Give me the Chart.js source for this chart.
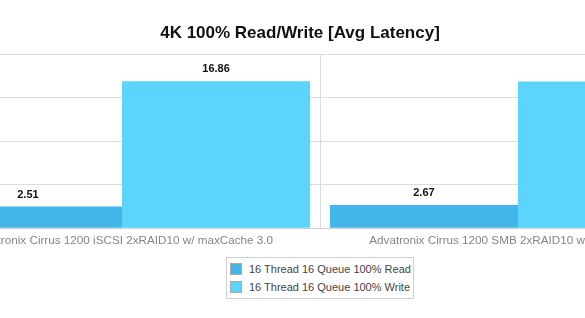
<!DOCTYPE html>
<html>
<head>
<meta charset="utf-8">
<script src="https://cdn.jsdelivr.net/npm/chart.js@4.4.1/dist/chart.umd.min.js"></script>
<style>
    html, body { margin: 0; padding: 0; background: #fff; overflow: hidden; }
    body { width: 585px; height: 318px; position: relative; font-family: "Liberation Sans", Arial, sans-serif; }
    #wrap { position: absolute; left: -116px; top: 0; width: 832px; height: 318px; }
    #legend {
        position: absolute; left: 226px; top: 257px; width: 186px;
        border: 1px solid #cfcfcf; padding: 2px 0 2px 0; background: #fff;
        font-size: 11px; color: #444;
    }
    #legend .item { height: 18px; line-height: 18px; display: flex; align-items: center; padding-left: 3px; }
    #legend .sw { width: 12px; height: 12px; border: 1px solid #aaa; margin-right: 7px; box-sizing: border-box; }
</style>
</head>
<body>
<div id="wrap"><canvas id="chart-latency"></canvas></div>
<div id="legend"></div>
<script>
// values
const categories = [
    'Advatronix Cirrus 1200 iSCSI 2xRAID10 w/ maxCache 3.0',
    'Advatronix Cirrus 1200 SMB 2xRAID10 w/ maxCache 3.0'
];
const seriesNames = ['16 Thread 16 Queue 100% Read', '16 Thread 16 Queue 100% Write'];
const readValues = [2.51, 2.67];
const writeValues = [16.86, 16.85];
const yTicks = [0, 5, 10, 15, 20];
const colors = ['#43b5e9', '#5bd5fe'];

const valueLabels = {
    id: 'valueLabels',
    afterDatasetsDraw(chart) {
        const ctx = chart.ctx;
        ctx.save();
        ctx.font = 'bold 11px "Liberation Sans", Arial, sans-serif';
        ctx.fillStyle = '#111';
        ctx.textAlign = 'center';
        ctx.textBaseline = 'middle';
        chart.data.datasets.forEach((ds, i) => {
            chart.getDatasetMeta(i).data.forEach((bar, j) => {
                ctx.fillText(ds.data[j].toFixed(2), bar.x, bar.y - 12);
            });
        });
        ctx.restore();
    }
};

const chart = new Chart(document.getElementById('chart-latency'), {
    type: 'bar',
    data: {
        labels: categories,
        datasets: [
            { label: seriesNames[0], data: readValues, backgroundColor: colors[0] },
            { label: seriesNames[1], data: writeValues, backgroundColor: colors[1] }
        ]
    },
    options: {
        responsive: true,
        maintainAspectRatio: false,
        animation: false,
        layout: { padding: { left: 0, right: 0, top: 0, bottom: 65.6 } },
        datasets: { bar: { categoryPercentage: 0.95, barPercentage: 1.0 } },
        plugins: {
            legend: { display: false },
            tooltip: { enabled: false },
            title: {
                display: true,
                text: '4K 100% Read/Write [Avg Latency]',
                color: '#111',
                font: { family: '"Liberation Sans", Arial, sans-serif', size: 17, weight: 'bold' },
                padding: { top: 23, bottom: 10.6 }
            }
        },
        scales: {
            x: {
                grid: { color: '#dcdcdc', drawTicks: false, offset: true },
                border: { color: '#cfcfcf' },
                ticks: {
                    color: '#858585', padding: 5, maxRotation: 0, autoSkip: false,
                    font: { family: '"Liberation Sans", Arial, sans-serif', size: 11.7 }
                }
            },
            y: {
                min: yTicks[0],
                max: yTicks[yTicks.length - 1],
                afterBuildTicks(scale) { scale.ticks = yTicks.map(v => ({ value: v })); },
                afterFit(scale) { scale.width = 40; },
                grid: { color: '#dcdcdc', drawTicks: false },
                border: { display: false },
                ticks: { color: '#8c8c8c', font: { size: 12 } }
            }
        }
    },
    plugins: [valueLabels]
});

// legend box, built from the chart's datasets
const legend = document.getElementById('legend');
chart.data.datasets.forEach((ds) => {
    const item = document.createElement('div');
    item.className = 'item';
    const sw = document.createElement('span');
    sw.className = 'sw';
    sw.style.background = ds.backgroundColor;
    item.appendChild(sw);
    item.appendChild(document.createTextNode(ds.label));
    legend.appendChild(item);
});
</script>
</body>
</html>
